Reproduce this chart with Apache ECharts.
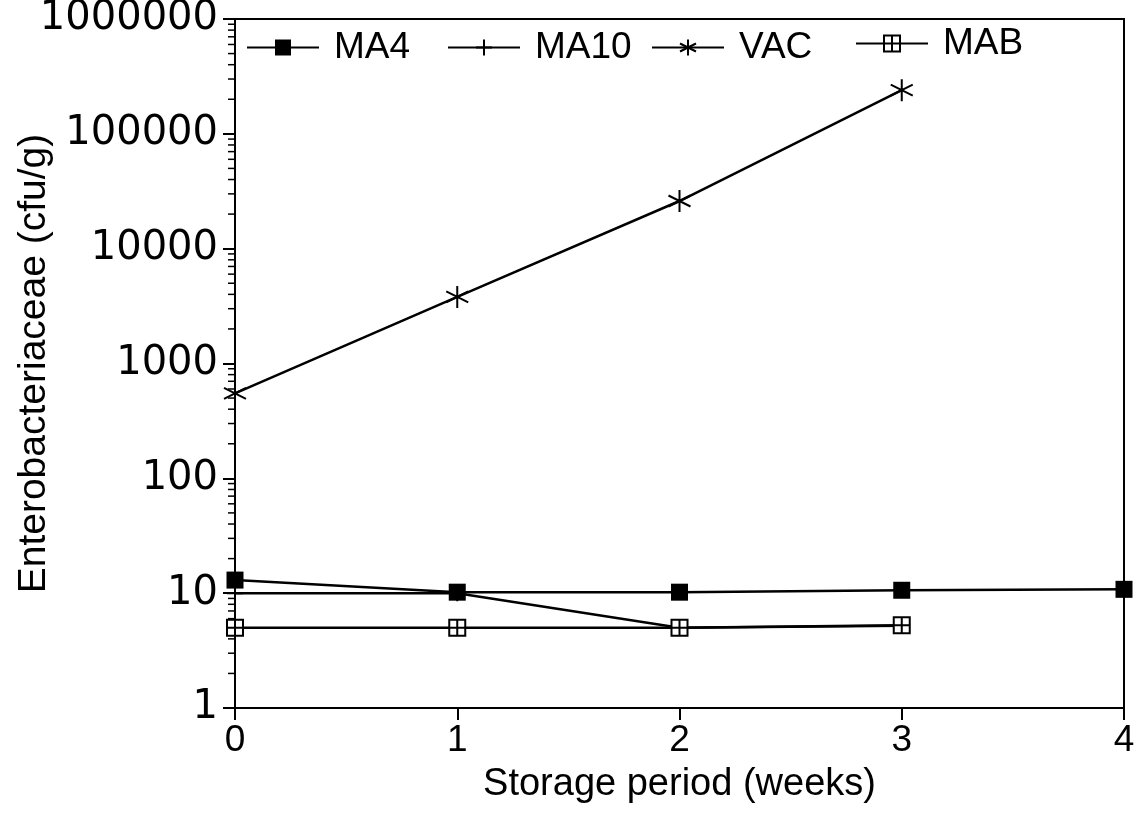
<!DOCTYPE html>
<html><head><meta charset="utf-8">
<script src="https://cdn.jsdelivr.net/npm/echarts@6/dist/echarts.min.js"></script>
<style>html,body{margin:0;padding:0;background:#fff}#c{width:1140px;height:814px}</style>
</head><body><div id="c"></div>
<script>
const weeks = [0, 1, 2, 3, 4];
const seriesNames = ['MA4', 'MA10', 'VAC', 'MAB'];
const ma4 = [13, 10.2, 10.2, 10.6, 10.8];
const ma10 = [10, 10, 5, 5.2];
const vac = [550, 3800, 26000, 240000];
const mab = [5, 5, 5, 5.25];
const yDecades = [1, 10, 100, 1000, 10000, 100000];
const minorMultipliers = [2, 3, 4, 5, 6, 7, 8, 9];

const pairs = arr => arr.map((v, i) => [weeks[i], v]);
const minorVals = [];
yDecades.forEach(d => minorMultipliers.forEach(m => minorVals.push([0, d * m])));

const FONT = '"Liberation Sans", Arial, Helvetica, sans-serif';
const SYM_AST = 'path://M0,-10L0,10M-8.66,-5L8.66,5M-8.66,5L8.66,-5';
const SYM_PLUS = 'path://M-10,0L10,0M0,-10L0,10';
const SYM_BOXPLUS = 'path://M-10,-10H10V10H-10ZM0,-10V10M-10,0H10';

const legendBase = {
  orient: 'horizontal', itemWidth: 72, itemHeight: 20,
  textStyle: { fontFamily: FONT, fontSize: 37, color: '#000', padding: [0, 0, 0, 10] }
};

const chart = echarts.init(document.getElementById('c'), null, { renderer: 'canvas' });
chart.setOption({
  animation: false,
  backgroundColor: '#fff',
  grid: { left: 235, right: 16, top: 19, bottom: 106, show: true, borderColor: '#000', borderWidth: 2,
    outerBoundsMode: 'none', containLabel: false },
  legend: [
    Object.assign({}, legendBase, { data: [seriesNames[0]], left: 241, top: 24 }),
    Object.assign({}, legendBase, { data: [seriesNames[1]], left: 442, top: 24 }),
    Object.assign({}, legendBase, { data: [seriesNames[2]], left: 646, top: 24 }),
    Object.assign({}, legendBase, { data: [seriesNames[3]], left: 850, top: 20 })
  ],
  xAxis: {
    type: 'value', min: 0, max: 4, interval: 1,
    name: 'Storage period (weeks)', nameLocation: 'middle', nameGap: 58, nameMoveOverlap: false,
    nameTextStyle: { fontFamily: FONT, fontSize: 38, color: '#000' },
    axisLine: { lineStyle: { color: '#000', width: 2 } },
    axisTick: { show: true, length: 12, lineStyle: { color: '#000', width: 2 } },
    axisLabel: { fontFamily: FONT, fontSize: 37, color: '#000', margin: 14 },
    splitLine: { show: false }
  },
  yAxis: {
    type: 'log', logBase: 10, min: 1, max: 1000000,
    name: 'Enterobacteriaceae (cfu/g)', nameLocation: 'middle', nameGap: 181, nameMoveOverlap: false,
    nameTextStyle: { fontFamily: FONT, fontSize: 39, color: '#000' },
    axisLine: { lineStyle: { color: '#000', width: 2 } },
    axisTick: { show: true, length: 12, lineStyle: { color: '#000', width: 2 } },
    axisLabel: { fontFamily: '"DejaVu Sans", sans-serif', fontSize: 40, color: '#000', margin: 17,
      formatter: v => String(Math.round(v)) },
    splitLine: { show: false }
  },
  series: [
    {
      type: 'custom', silent: true, clip: false, z: 1,
      data: minorVals,
      renderItem: (params, api) => {
        const p = api.coord([api.value(0), api.value(1)]);
        return { type: 'line', shape: { x1: p[0] - 7, y1: p[1], x2: p[0], y2: p[1] },
          style: { stroke: '#000', lineWidth: 1.5 } };
      }
    },
    {
      name: seriesNames[1], type: 'line', data: pairs(ma10), z: 2,
      symbol: SYM_PLUS, symbolSize: 16,
      lineStyle: { color: '#000', width: 2.5 },
      itemStyle: { color: '#000', borderColor: '#000', borderWidth: 2 }
    },
    {
      name: seriesNames[0], type: 'line', data: pairs(ma4), z: 3,
      symbol: 'rect', symbolSize: 17,
      lineStyle: { color: '#000', width: 2.5 },
      itemStyle: { color: '#000' }
    },
    {
      name: seriesNames[2], type: 'line', data: pairs(vac), z: 3,
      symbol: SYM_AST, symbolSize: 22,
      lineStyle: { color: '#000', width: 2.5 },
      itemStyle: { color: '#000', borderColor: '#000', borderWidth: 2 }
    },
    {
      name: seriesNames[3], type: 'line', data: pairs(mab), z: 4,
      symbol: SYM_BOXPLUS, symbolSize: 16,
      lineStyle: { color: '#000', width: 2.5 },
      itemStyle: { color: '#fff', borderColor: '#000', borderWidth: 2 }
    }
  ]
});
</script></body></html>
